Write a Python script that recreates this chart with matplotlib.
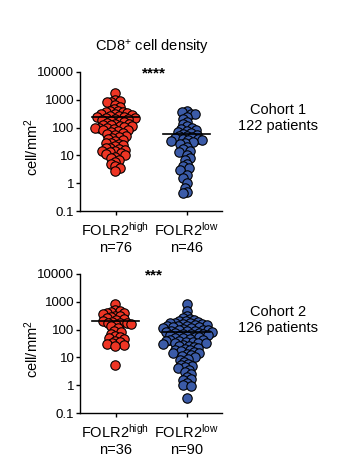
import numpy as np
import matplotlib.pyplot as plt
from matplotlib.ticker import FixedLocator, FixedFormatter, NullLocator

plt.rcParams['font.family'] = ['Liberation Sans', 'DejaVu Sans']
plt.rcParams['mathtext.fontset'] = 'custom'
plt.rcParams['mathtext.rm'] = 'Liberation Sans'
plt.rcParams['mathtext.it'] = 'Liberation Sans:italic'

# cohort 1 (cell/mm2)
c1_high = [1800, 1000, 900, 850, 800, 650, 550,
           450, 400, 380, 360, 350, 330, 310, 300, 280, 270, 260, 250, 240, 230, 220, 210, 200,
           190, 180, 170, 160, 150, 140, 130, 125, 120, 115, 110, 105, 100, 100,
           95, 90, 85, 80, 75, 70, 65, 60, 55, 50, 45, 42, 38, 35, 32,
           29, 27, 25, 23, 21, 19, 18, 17, 16, 15, 14, 13, 12, 11, 10,
           9, 8, 7, 6, 5, 4, 3.5, 2.7]
c1_low = [380, 350, 320, 300, 250, 200, 160, 130, 110, 95,
          90, 80, 75, 70, 65, 60, 55, 50, 48, 45,
          42, 40, 38, 36, 35, 33, 30, 28, 25, 20,
          17, 15, 13, 10, 8, 7, 5, 4, 3.5, 3,
          2, 1.5, 1, 0.7, 0.5, 0.45]
c1_lines = [240, 59]
c1_n = [76, 46]

# cohort 2
c2_high = [850, 500, 450, 420, 400, 380, 350, 320, 300, 280,
           260, 240, 220, 200, 190, 180, 180, 170, 160, 150,
           130, 110, 90, 80, 70, 60, 55, 50, 45, 40,
           35, 32, 30, 28, 25, 5.5]
c2_low = [850, 480, 320,
          260, 250, 230, 210, 200, 190, 180, 175, 170, 160, 155, 150, 145, 140, 135, 130,
          125, 120, 115, 110, 105, 100, 100,
          95, 92, 90, 88, 85, 80, 78, 75, 72, 70, 68, 65, 62, 60, 58, 55, 52, 50, 48, 46,
          44, 42, 40, 38, 36, 35, 34, 33, 32, 30,
          28, 26, 25, 24, 22, 20, 19, 18, 17, 16, 15, 14, 13, 12, 11, 10,
          9, 8, 7, 6, 5.5, 5, 4.5, 4, 3.5, 3, 2.5, 2, 1.7, 1.5, 1.2, 1,
          0.95, 0.35]
c2_lines = [204, 82]
c2_n = [36, 90]

groups = ['FOLR2$^{\\mathrm{high}}$', 'FOLR2$^{\\mathrm{low}}$']
colors = ['#EE3524', '#3B5BA8']
yticks = [0.1, 1, 10, 100, 1000, 10000]
ytick_labels = ['0.1', '1', '10', '100', '1000', '10000']

W, H = 364, 466
fig = plt.figure(figsize=(W / 100, H / 100), dpi=100)


def swarm(ypix, dmin):
    """beeswarm x offsets (pixels) for points at ypix"""
    xs = []
    ys = []
    out = np.zeros(len(ypix))
    for k, y in enumerate(ypix):
        blocked = []
        for xj, yj in zip(xs, ys):
            dy = abs(y - yj)
            if dy < dmin:
                h = np.sqrt(dmin ** 2 - dy ** 2)
                blocked.append((xj - h, xj + h))
        cands = [0.0] + [b[0] for b in blocked] + [b[1] for b in blocked]
        sgn = 1 if k % 2 == 0 else -1
        cands.sort(key=lambda c: (abs(c), -sgn * c))
        for c in cands:
            if all(not (lo + 1e-6 < c < hi - 1e-6) for lo, hi in blocked):
                break
        xs.append(c)
        ys.append(y)
        out[k] = c
    return out


def draw_cohort(top, data, lines, ns, stars, cohort):
    ax = fig.add_axes([80 / W, 1 - (top + 139) / H, 142 / W, 139 / H])
    ax.set_yscale('log')
    ax.set_ylim(0.1, 10000)
    ax.set_xlim(-0.5, 1.5)
    for i, vals in enumerate(data):
        vals = np.sort(np.array(vals, float))[::-1]
        pts = ax.transData.transform(np.column_stack([np.full(len(vals), i), vals]))
        offs = swarm(pts[:, 1], 4.6)
        xs = ax.transData.inverted().transform(
            np.column_stack([pts[:, 0] + offs, pts[:, 1]]))[:, 0]
        ax.scatter(xs, vals, s=46, c=colors[i], edgecolors='black',
                   linewidths=0.8, zorder=3, clip_on=False)
        ax.plot([i - 0.33, i + 0.33], [lines[i], lines[i]], color='black',
                lw=1.2, zorder=4)

    ax.yaxis.set_major_locator(FixedLocator(yticks))
    ax.yaxis.set_major_formatter(FixedFormatter(ytick_labels))
    ax.yaxis.set_minor_locator(NullLocator())
    ax.set_xticks([0, 1])
    ax.set_xticklabels([f'{g}\nn={n}' for g, n in zip(groups, ns)],
                       fontsize=10.5, linespacing=1.2)
    ax.tick_params(axis='y', labelsize=9.5, length=3, width=1, pad=1)
    ax.tick_params(axis='x', length=3, width=1, pad=4)
    for s in ['top', 'right']:
        ax.spines[s].set_visible(False)
    for s in ['left', 'bottom']:
        ax.spines[s].set_linewidth(1)
    ax.text((32 - 80) / 142, 0.46, 'cell/mm$^2$', rotation=90, ha='center',
            va='center', fontsize=10.5, transform=ax.transAxes)

    fig.text(154 / W, 1 - (top + 5) / H, stars, ha='center', va='baseline',
             fontsize=11, fontweight='bold')
    fig.text(278 / W, 1 - (top + 46) / H, cohort, ha='center', va='center',
             fontsize=10.5, linespacing=1.25)
    return ax


fig.text(152 / W, 1 - 47 / H, 'CD8$^{+}$ cell density', ha='center',
         va='center', fontsize=10.5)
draw_cohort(72, [c1_high, c1_low], c1_lines, c1_n, '****', 'Cohort 1\n122 patients')
draw_cohort(274, [c2_high, c2_low], c2_lines, c2_n, '***', 'Cohort 2\n126 patients')

fig.savefig('out.png', dpi=100)
